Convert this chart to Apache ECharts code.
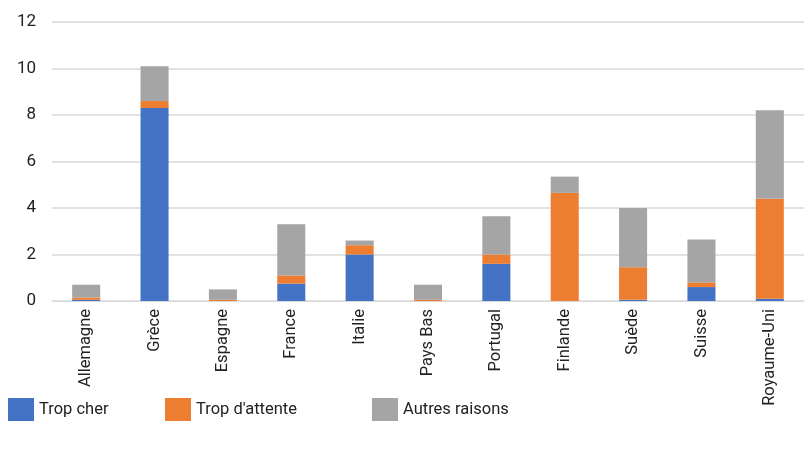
<!DOCTYPE html>
<html>
<head>
<meta charset="utf-8">
<script src="https://cdn.jsdelivr.net/npm/echarts@6/dist/echarts.min.js"></script>
<style>
  html, body { margin: 0; padding: 0; background: #fff; }
  #chart { width: 811px; height: 449px; }
</style>
</head>
<body>
<div id="chart"></div>
<script>
const pays = ['Allemagne', 'Grèce', 'Espagne', 'France', 'Italie', 'Pays Bas', 'Portugal', 'Finlande', 'Suède', 'Suisse', 'Royaume-Uni'];
const tropCher = [0.05, 8.3, 0, 0.75, 2.0, 0, 1.6, 0, 0.05, 0.6, 0.1];
const tropAttente = [0.1, 0.3, 0.05, 0.35, 0.4, 0.05, 0.4, 4.65, 1.4, 0.2, 4.3];
const autresRaisons = [0.55, 1.5, 0.45, 2.2, 0.2, 0.65, 1.65, 0.7, 2.55, 1.85, 3.8];
const yTicks = [0, 2, 4, 6, 8, 10, 12];

const colors = ['#4472C4', '#ED7D31', '#A5A5A5'];
const font = 'Roboto';

const chart = echarts.init(document.getElementById('chart'));

// une légende par série pour placer chaque élément comme dans l'original
function legendAt(name, left) {
    return {
        data: [name],
        left: left,
        top: 398,
        padding: 0,
        icon: 'rect',
        itemWidth: 26,
        itemHeight: 23,
        textStyle: { fontFamily: font, fontSize: 16.5, color: '#222' }
    };
}

const option = {
    color: colors,
    animation: false,
    legend: [
        legendAt('Trop cher', 8),
        legendAt("Trop d'attente", 165),
        legendAt('Autres raisons', 372)
    ],
    grid: { left: 52, right: 7, top: 22, bottom: 148 },
    xAxis: {
        type: 'category',
        data: pays,
        axisLine: { lineStyle: { color: '#d9d9d9' } },
        axisTick: { show: false },
        axisLabel: {
            rotate: 90,
            interval: 0,
            margin: 8,
            color: '#222',
            fontFamily: font,
            fontSize: 16.5
        }
    },
    yAxis: {
        type: 'value',
        min: yTicks[0],
        max: yTicks[yTicks.length - 1],
        interval: 2,
        axisLine: { show: false },
        axisTick: { show: false },
        splitLine: { lineStyle: { color: '#d9d9d9', width: 1.5 } },
        axisLabel: { color: '#222', fontFamily: font, fontSize: 17, margin: 16 }
    },
    series: [
        { name: 'Trop cher', type: 'bar', stack: 'total', data: tropCher, barCategoryGap: '59%' },
        { name: "Trop d'attente", type: 'bar', stack: 'total', data: tropAttente },
        { name: 'Autres raisons', type: 'bar', stack: 'total', data: autresRaisons }
    ]
};

chart.setOption(option);
</script>
</body>
</html>
